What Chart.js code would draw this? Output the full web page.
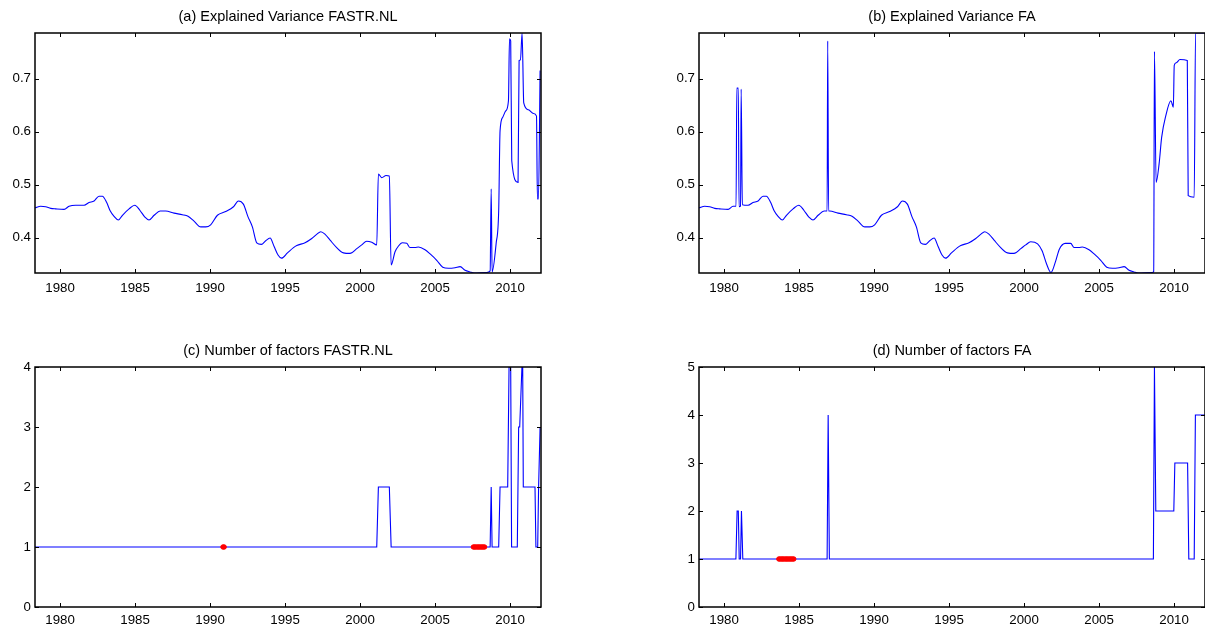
<!DOCTYPE html>
<html>
<head>
<meta charset="utf-8">
<script src="https://cdn.jsdelivr.net/npm/chart.js@4"></script>
<style>
  body { margin: 0; width: 1205px; height: 627px; overflow: hidden; background: #fff; position: relative; }
  canvas { position: absolute; }
</style>
</head>
<body>
<canvas id="pa" width="576" height="305" style="left:0;top:0"></canvas>
<canvas id="pb" width="576" height="305" style="left:664px;top:0"></canvas>
<canvas id="pc" width="576" height="293" style="left:0;top:334px"></canvas>
<canvas id="pd" width="576" height="293" style="left:664px;top:334px"></canvas>
<script>
// time axis shared by all four panels
const xMin = 1978.33, xMax = 2012.06;
const yearTicks = [1980, 1985, 1990, 1995, 2000, 2005, 2010];

// (a) explained variance, FASTR.NL
const aYears = [1978.33, 1978.71, 1979.04, 1979.38, 1979.71, 1980.27, 1980.6, 1981.04, 1981.6, 1981.93,
  1982.27, 1982.6, 1982.82, 1983.11, 1983.33, 1983.6, 1983.89, 1984.16, 1984.6, 1984.98,
  1985.33, 1985.64, 1985.93, 1986.27, 1986.67, 1987.04, 1987.6, 1988.16, 1988.53, 1988.93,
  1989.38, 1989.71, 1990.04, 1990.49, 1991.04, 1991.56, 1991.89, 1992.22, 1992.53, 1992.82,
  1993.11, 1993.42, 1993.71, 1994.0, 1994.27, 1994.53, 1994.76, 1995.16, 1995.56, 1995.78,
  1996.33, 1996.78, 1997.11, 1997.38, 1997.67, 1998.0, 1998.44, 1998.89, 1999.33, 1999.78,
  2000.11, 2000.44, 2000.78, 2001.11, 2001.22, 2001.44, 2001.73, 2001.95, 2002.07, 2002.33,
  2002.56, 2002.82, 2003.11, 2003.33, 2003.67, 2003.89, 2004.33, 2004.67, 2005.11, 2005.51,
  2005.89, 2006.33, 2006.67, 2007.0, 2007.33, 2007.6, 2008.44, 2008.67, 2008.74, 2008.8,
  2009.07, 2009.24, 2009.33, 2009.51, 2009.71, 2009.89, 2009.96, 2010.04, 2010.11, 2010.53,
  2010.6, 2010.69, 2010.8, 2010.91, 2011.22, 2011.56, 2011.76, 2011.82, 2011.89, 2012.0];
const aValues = [0.456, 0.459, 0.458, 0.455, 0.454, 0.453, 0.459, 0.461, 0.461, 0.466,
  0.469, 0.478, 0.478, 0.466, 0.451, 0.440, 0.433, 0.442, 0.454, 0.461,
  0.451, 0.439, 0.433, 0.442, 0.450, 0.450, 0.446, 0.443, 0.440, 0.431,
  0.420, 0.420, 0.424, 0.442, 0.449, 0.458, 0.469, 0.463, 0.439, 0.420,
  0.390, 0.387, 0.394, 0.399, 0.383, 0.367, 0.361, 0.371, 0.381, 0.385,
  0.390, 0.398, 0.406, 0.411, 0.406, 0.395, 0.381, 0.371, 0.370, 0.379,
  0.386, 0.393, 0.391, 0.386, 0.520, 0.513, 0.517, 0.516, 0.348, 0.373,
  0.384, 0.390, 0.389, 0.381, 0.381, 0.382, 0.377, 0.369, 0.357, 0.344,
  0.342, 0.343, 0.345, 0.338, 0.335, 0.333, 0.334, 0.337, 0.492, 0.335,
  0.389, 0.451, 0.601, 0.627, 0.639, 0.658, 0.775, 0.771, 0.545, 0.504,
  0.734, 0.735, 0.786, 0.654, 0.641, 0.634, 0.629, 0.473, 0.473, 0.715];

// (b) explained variance, FA
const bYears = [1978.33, 1978.71, 1979.04, 1979.38, 1979.71, 1980.27, 1980.6, 1980.8, 1980.85, 1980.95,
  1981.0, 1981.1, 1981.14, 1981.22, 1981.6, 1981.93,
  1982.27, 1982.6, 1982.82, 1983.11, 1983.33, 1983.6, 1983.89, 1984.16, 1984.6, 1984.98,
  1985.33, 1985.64, 1985.93, 1986.27, 1986.67, 1986.87, 1986.91, 1986.97, 1987.04, 1987.6,
  1988.16, 1988.53, 1988.93, 1989.38, 1989.71, 1990.04, 1990.49, 1991.04, 1991.56, 1991.89,
  1992.22, 1992.53, 1992.82, 1993.11, 1993.42, 1993.71, 1994.0, 1994.27, 1994.53, 1994.76,
  1995.16, 1995.56, 1995.78, 1996.33, 1996.78, 1997.11, 1997.38, 1997.67, 1998.0, 1998.44,
  1998.89, 1999.33, 1999.78, 2000.11, 2000.44, 2000.9, 2001.2, 2001.5, 2001.79, 2002.1,
  2002.35, 2002.75, 2003.11, 2003.33, 2003.67, 2003.89, 2004.33, 2004.67, 2005.11, 2005.51,
  2005.89, 2006.33, 2006.67, 2007.0, 2007.33, 2007.6, 2008.55, 2008.64, 2008.69, 2008.8,
  2009.0, 2009.17, 2009.44, 2009.79, 2009.95, 2010.01, 2010.15, 2010.39, 2010.88, 2010.94,
  2011.34, 2011.43, 2012.06];
const bValues = [0.456, 0.459, 0.458, 0.455, 0.454, 0.453, 0.459, 0.459, 0.682, 0.682,
  0.458, 0.459, 0.680, 0.462, 0.461, 0.466,
  0.469, 0.478, 0.478, 0.466, 0.451, 0.440, 0.433, 0.442, 0.454, 0.461,
  0.451, 0.439, 0.433, 0.442, 0.450, 0.450, 0.771, 0.450, 0.450, 0.446,
  0.443, 0.440, 0.431, 0.420, 0.420, 0.424, 0.442, 0.449, 0.458, 0.469,
  0.463, 0.439, 0.420, 0.390, 0.387, 0.394, 0.399, 0.383, 0.367, 0.361,
  0.371, 0.381, 0.385, 0.390, 0.398, 0.406, 0.411, 0.406, 0.395, 0.381,
  0.371, 0.370, 0.379, 0.386, 0.392, 0.388, 0.375, 0.350, 0.334, 0.355,
  0.378, 0.389, 0.389, 0.381, 0.381, 0.382, 0.377, 0.369, 0.357, 0.344,
  0.342, 0.343, 0.345, 0.338, 0.335, 0.333, 0.334, 0.336, 0.751, 0.504,
  0.539, 0.589, 0.629, 0.658, 0.646, 0.725, 0.730, 0.736, 0.734, 0.479,
  0.476, 0.786, 0.786];

// (c) number of factors, FASTR.NL
const cYears = [1978.33, 2001.11, 2001.22, 2001.95, 2002.07, 2008.67, 2008.74, 2008.8, 2009.24, 2009.33,
  2009.84, 2009.93, 2010.04, 2010.1, 2010.48, 2010.57, 2010.64, 2010.79, 2010.84, 2010.88,
  2011.66, 2011.72, 2011.84, 2011.9, 2012.0];
const cValues = [1, 1, 2, 2, 1, 1, 2, 1, 1, 2,
  2, 4, 4, 1, 1, 3, 3, 4, 4, 2,
  2, 1, 1, 2, 3];
const cMarkYears = [1990.86, 1990.94, 2007.55, 2007.63, 2007.71, 2007.8, 2007.88, 2007.96, 2008.05, 2008.13, 2008.21, 2008.3];
const cMarkValues = [1, 1, 1, 1, 1, 1, 1, 1, 1, 1, 1, 1];

// (d) number of factors, FA
const dYears = [1978.33, 1980.79, 1980.87, 1980.95, 1981.01, 1981.1, 1981.16, 1981.25, 1986.87, 1986.94,
  1987.02, 2008.62, 2008.69, 2008.78, 2009.98, 2010.05, 2010.9, 2010.98, 2011.34, 2011.42, 2012.06];
const dValues = [1, 1, 2, 2, 1, 1, 2, 1, 1, 4,
  1, 1, 5, 2, 2, 3, 3, 1, 1, 4, 4];
const dMarkYears = [1983.65, 1983.73, 1983.82, 1983.9, 1983.98, 1984.07, 1984.15, 1984.23, 1984.32, 1984.4, 1984.48, 1984.57, 1984.65];
const dMarkValues = [1, 1, 1, 1, 1, 1, 1, 1, 1, 1, 1, 1, 1];

const varTicks = [0.4, 0.5, 0.6, 0.7];
const cTicks = [0, 1, 2, 3, 4];
const dTicks = [0, 1, 2, 3, 4, 5];

const FONT = '"Liberation Sans", Arial, sans-serif';

// box around the plot area with inward tick marks on all four sides
const axesBox = {
    id: 'axesBox',
    afterDraw(chart) {
        let ctx = chart.ctx;
        let a = chart.chartArea;
        let x = chart.scales.x, y = chart.scales.y;
        ctx.save();
        ctx.strokeStyle = '#000';
        ctx.lineWidth = 1;
        ctx.beginPath();
        x.ticks.forEach(t => {
            let px = Math.round(x.getPixelForValue(t.value)) + 0.5;
            ctx.moveTo(px, a.bottom); ctx.lineTo(px, a.bottom - 4);
            ctx.moveTo(px, a.top); ctx.lineTo(px, a.top + 4);
        });
        y.ticks.forEach(t => {
            let py = Math.round(y.getPixelForValue(t.value)) + 0.5;
            ctx.moveTo(a.left, py); ctx.lineTo(a.left + 4, py);
            ctx.moveTo(a.right, py); ctx.lineTo(a.right - 4, py);
        });
        ctx.stroke();
        ctx.lineWidth = 1.5;
        ctx.strokeRect(a.left, a.top, a.right - a.left, a.bottom - a.top);
        ctx.restore();
    }
};

function toPoints(xs, ys) {
    return xs.map((v, i) => ({ x: v, y: ys[i] }));
}

function makePanel(id, title, years, values, marks, yMin, yMax, yTicks, yLabel, xHeight, xPad, smooth) {
    let datasets = [];
    if (marks) {
        datasets.push({
            data: toPoints(marks[0], marks[1]),
            showLine: false,
            pointRadius: 2.2,
            pointStyle: 'circle',
            backgroundColor: '#ff0000',
            borderColor: '#ff0000',
            borderWidth: 1
        });
    }
    datasets.push({
        data: toPoints(years, values),
        borderColor: '#0000ff',
        borderWidth: 1.1,
        pointRadius: 0,
        cubicInterpolationMode: smooth ? 'monotone' : 'default',
        tension: 0,
        fill: false
    });

    new Chart(document.getElementById(id), {
        type: 'line',
        data: { datasets: datasets },
        options: {
            responsive: false,
            animation: false,
            events: [],
            devicePixelRatio: 1,
            layout: { padding: 0 },
            plugins: {
                legend: { display: false },
                tooltip: { enabled: false },
                title: {
                    display: true,
                    text: title,
                    color: '#000',
                    font: { family: FONT, size: 14.5, weight: 'normal', lineHeight: 1.2 },
                    padding: { top: 7.8, bottom: 7.8 }
                }
            },
            scales: {
                x: {
                    type: 'linear',
                    min: xMin,
                    max: xMax,
                    grid: { display: false, drawTicks: false },
                    border: { display: false },
                    afterBuildTicks: s => { s.ticks = yearTicks.map(v => ({ value: v })); },
                    afterFit: s => { s.height = xHeight; },
                    ticks: {
                        color: '#000',
                        font: { family: FONT, size: 13.3 },
                        padding: xPad,
                        maxRotation: 0,
                        callback: v => String(v)
                    }
                },
                y: {
                    type: 'linear',
                    min: yMin,
                    max: yMax,
                    grid: { display: false, drawTicks: false },
                    border: { display: false },
                    afterBuildTicks: s => { s.ticks = yTicks.map(v => ({ value: v })); },
                    afterFit: s => { s.width = 35; },
                    ticks: {
                        color: '#000',
                        font: { family: FONT, size: 13.3 },
                        padding: 4,
                        callback: yLabel
                    }
                },
                // empty strip on the right so the title centres over the plot
                yRight: {
                    type: 'linear',
                    position: 'right',
                    grid: { display: false, drawTicks: false },
                    border: { display: false },
                    ticks: { display: false },
                    afterFit: s => { s.width = 35; }
                }
            }
        },
        plugins: [axesBox]
    });
}

makePanel('pa', '(a) Explained Variance FASTR.NL', aYears, aValues, null,
    0.333, 0.786, varTicks, v => v.toFixed(1), 32, 7, true);
makePanel('pb', '(b) Explained Variance FA', bYears, bValues, null,
    0.333, 0.786, varTicks, v => v.toFixed(1), 32, 7, true);
makePanel('pc', '(c) Number of factors FASTR.NL', cYears, cValues, [cMarkYears, cMarkValues],
    0, 4, cTicks, v => String(v), 20, 5, false);
makePanel('pd', '(d) Number of factors FA', dYears, dValues, [dMarkYears, dMarkValues],
    0, 5, dTicks, v => String(v), 20, 5, false);
</script>
</body>
</html>
